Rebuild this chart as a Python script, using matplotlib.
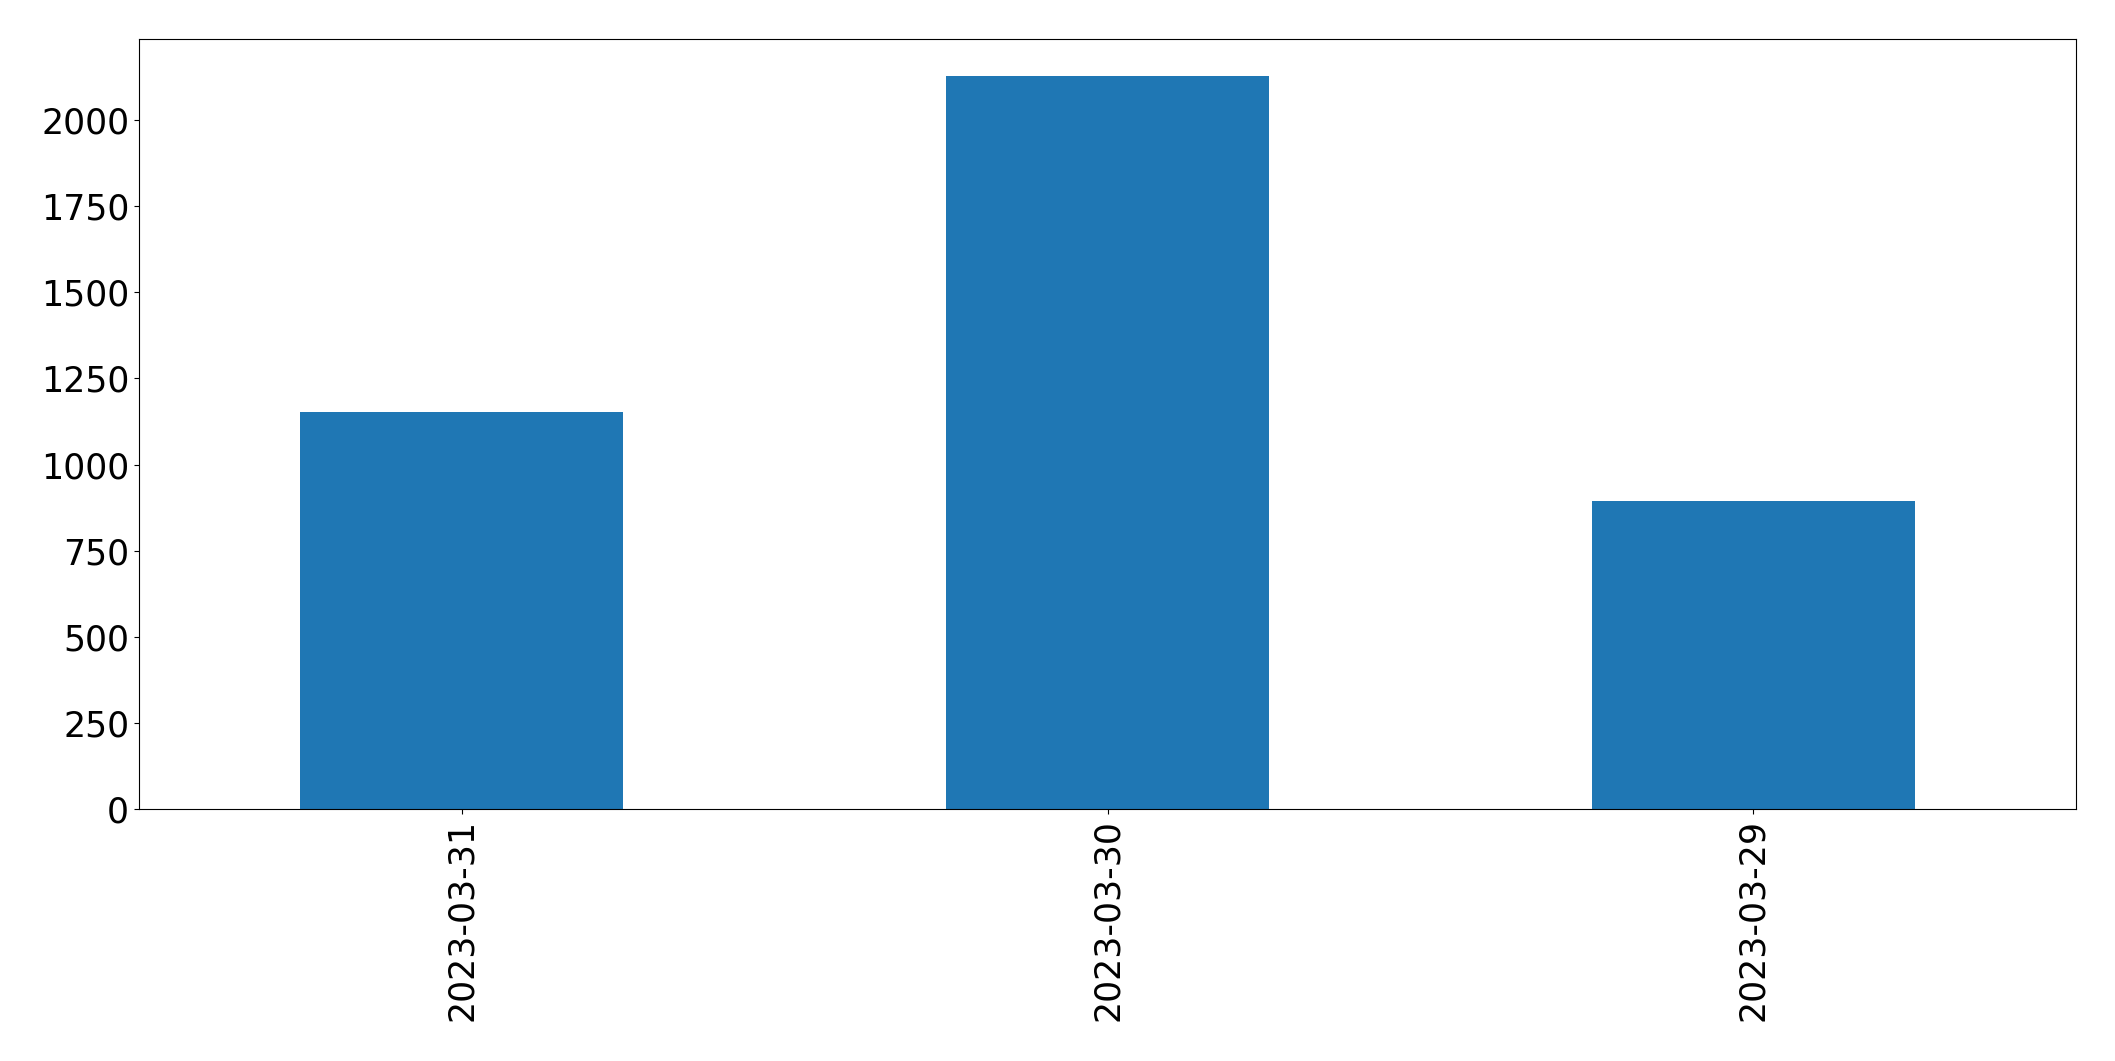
import numpy as np
import matplotlib
matplotlib.use("Agg")
import matplotlib.pyplot as plt

dates = ["2023-03-31", "2023-03-30", "2023-03-29"]
counts = [1152, 2128, 893]

fig, ax = plt.subplots(figsize=(21.15, 10.61), dpi=100)
x = np.arange(len(dates))
ax.bar(x, counts, width=0.5, color="#1f77b4")
ax.set_xlim(-0.5, len(dates) - 0.5)
ax.set_xticks(x)
ax.set_xticklabels(dates, rotation=90)
ax.tick_params(labelsize=25)
fig.subplots_adjust(left=0.0657, right=0.9816, top=0.963, bottom=0.2375)
fig.savefig("out.png", dpi=100)
